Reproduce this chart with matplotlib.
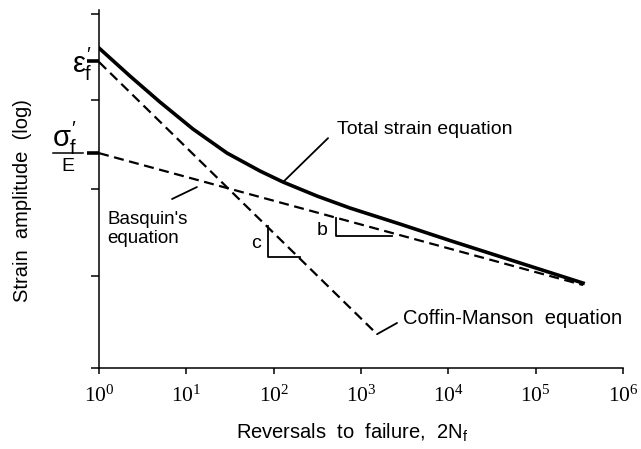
import matplotlib.pyplot as plt
import matplotlib.transforms as mtransforms

plt.rcParams['font.family'] = 'Liberation Sans'
plt.rcParams['mathtext.fontset'] = 'custom'
plt.rcParams['mathtext.rm'] = 'Liberation Sans'
plt.rcParams['mathtext.it'] = 'Liberation Sans'
plt.rcParams['mathtext.bf'] = 'Liberation Sans:bold'

# reversals to failure (2Nf) and strain amplitude for each curve
total_n = [1, 2.26, 4.99, 11.9, 29.2, 69.8, 128, 314, 748, 2800, 10450, 39080, 348400]
total_strain = [0.1442, 0.0933, 0.0622, 0.0409, 0.02814, 0.02127, 0.01792,
                0.01441, 0.01196, 0.00932, 0.00721, 0.00562, 0.00372]
basquin_n = [1, 348400]
basquin_strain = [0.0281, 0.00361]
coffin_n = [1, 1525]
coffin_strain = [0.116, 0.00168]

# slope triangles (exponents c and b)
c_tri_n = [86.1, 86.1, 200]
c_tri_strain = [0.00904, 0.00558, 0.00558]
b_tri_n = [517, 517, 2265]
b_tri_strain = [0.01024, 0.00774, 0.00774]

eps_f = 0.118       # fatigue ductility coefficient
sig_f_E = 0.0281    # fatigue strength coefficient / E
y_ticks = [0.245, eps_f, 0.0642, sig_f_E, 0.0161, 0.00415, 0.001]
x_ticks = [1, 10, 100, 1e3, 1e4, 1e5, 1e6]
x_exps = [0, 1, 2, 3, 4, 5, 6]

fig = plt.figure(figsize=(6.41, 4.49), dpi=100)
ax = fig.add_axes([0.1545, 0.1815, 0.8175, 0.796])

dash = (0, (4.5, 2.5))
ax.plot(total_n, total_strain, color='black', lw=2.6, solid_joinstyle='round')
ax.plot(basquin_n, basquin_strain, color='black', lw=1.6, ls=dash)
ax.plot(coffin_n, coffin_strain, color='black', lw=1.6, ls=dash)
ax.plot(c_tri_n, c_tri_strain, color='black', lw=1.3)
ax.plot(b_tri_n, b_tri_strain, color='black', lw=1.3)

ax.set_xscale('log')
ax.set_yscale('log')
ax.set_xlim(1, 1e6)
ax.set_ylim(0.001, 0.2603)

ax.spines['top'].set_visible(False)
ax.spines['right'].set_visible(False)
ax.spines['left'].set_linewidth(1.1)
ax.spines['bottom'].set_linewidth(1.1)

ax.set_xticks(x_ticks)
ax.set_xticklabels([r'$\mathregular{10^{%d}}$' % k for k in x_exps],
                   fontfamily='Liberation Serif', fontsize=15.5)
ax.set_yticks(y_ticks)
ax.set_yticklabels([])
ax.minorticks_off()
ax.tick_params(axis='x', direction='out', length=4, width=1.1, pad=9)
ax.tick_params(axis='y', direction='out', length=6, width=1.1)
for i, t in enumerate(ax.yaxis.get_major_ticks()):
    if y_ticks[i] in (eps_f, sig_f_E):
        t.tick1line.set_markeredgewidth(2.6)
        t.tick1line.set_markersize(9)

ax.set_xlabel(r'Reversals  to  failure,  2N$_\mathregular{f}$', fontsize=14.5, va='center')
ax.xaxis.set_label_coords(0.483, -0.183)
ax.set_ylabel('Strain  amplitude  (log)', fontsize=14.5, va='center')
ax.yaxis.set_label_coords(-0.147, 0.466)

# labels for the two intercepts on the strain axis
trans = mtransforms.blended_transform_factory(ax.transAxes, ax.transData)
ax.text(-0.0115, 0.112, r"$\varepsilon_{f}^{\prime}$", transform=trans,
        ha='right', va='center', fontsize=21)
ax.text(-0.0649, 0.0356, r"$\sigma_{f}^{\prime}$", transform=trans,
        ha='center', va='center', fontsize=21)
ax.plot([-0.0878, -0.0305], [sig_f_E, sig_f_E], transform=trans,
        color='black', lw=1.1, clip_on=False)
ax.text(-0.0592, 0.023, 'E', transform=trans, ha='center', va='center', fontsize=14)

# curve labels with leader lines
lead = dict(arrowstyle='-', color='black', lw=1.3, shrinkA=0, shrinkB=0)
ax.annotate('', xy=(128, 0.01792), xytext=(419, 0.0355), arrowprops=lead)
ax.text(531, 0.0403, 'Total strain equation', ha='left', va='center', fontsize=14)
ax.annotate('', xy=(13.2, 0.01658), xytext=(6.85, 0.01376), arrowprops=lead)
ax.text(1.235, 0.0114, "Basquin's\nequation", ha='left', va='top', fontsize=13.5,
        linespacing=1.15)
ax.annotate('', xy=(1525, 0.00168), xytext=(2584, 0.0020), arrowprops=lead)
ax.text(3030, 0.00216, 'Coffin-Manson  equation', ha='left', va='center', fontsize=14.5)
ax.text(62.8, 0.00694, 'c', ha='center', va='center', fontsize=14)
ax.text(357, 0.00849, 'b', ha='center', va='center', fontsize=14)

fig.savefig('out.png', dpi=100)
